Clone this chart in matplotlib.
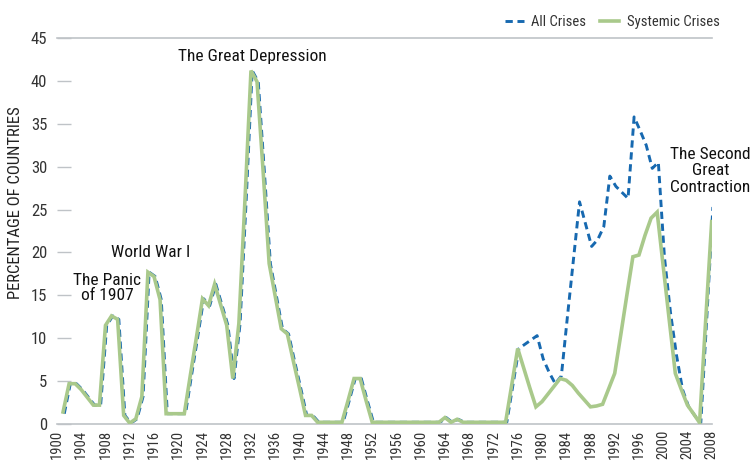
import matplotlib
matplotlib.use("Agg")
import matplotlib.pyplot as plt
import matplotlib.transforms as mtransforms

plt.rcParams['font.family'] = ['Roboto Condensed', 'Liberation Sans Narrow', 'Roboto', 'DejaVu Sans']

years = list(range(1901, 2009))

# share of countries in banking crisis
systemic = [1.4, 4.7, 4.7, 4.0, 3.1, 2.2, 2.2, 11.5, 12.6, 12.2,   # 1901-1910
            1.0, 0.1, 0.6, 3.2, 17.7, 17.2, 14.5, 1.2, 1.2, 1.2,   # 1911-1920
            1.2, 5.7, 10.1, 14.6, 13.8, 16.3, 13.9, 11.5, 5.3, 11.7,  # 1921-1930
            26.0, 41.2, 39.9, 29.5, 18.7, 14.9, 11.1, 10.5, 7.3, 4.2,  # 1931-1940
            1.0, 1.0, 0.2, 0.2, 0.2, 0.2, 0.2, 2.7, 5.3, 5.3,      # 1941-1950
            2.7, 0.2, 0.2, 0.2, 0.2, 0.2, 0.2, 0.2, 0.2, 0.2,      # 1951-1960
            0.2, 0.2, 0.2, 0.75, 0.2, 0.55, 0.2, 0.2, 0.2, 0.2,    # 1961-1970
            0.2, 0.2, 0.2, 0.2, 4.5, 8.8, 6.5, 4.2, 2.0, 2.6,      # 1971-1980
            3.5, 4.4, 5.3, 5.1, 4.5, 3.6, 2.8, 2.0, 2.1, 2.3,      # 1981-1990
            4.1, 5.9, 10.4, 15.0, 19.5, 19.7, 22.0, 24.0, 24.7, 18.4,  # 1991-2000
            12.1, 5.9, 4.0, 2.2, 1.2, 0.15, 12.0, 23.6]            # 2001-2008

all_crises = [1.2, 4.7, 4.7, 4.0, 3.1, 2.2, 2.2, 11.5, 12.6, 12.2,
              1.0, 0.1, 0.6, 3.2, 17.7, 17.2, 14.5, 1.2, 1.2, 1.2,
              1.2, 5.7, 10.1, 14.6, 13.8, 16.3, 13.9, 11.5, 5.3, 11.7,
              26.0, 41.2, 39.9, 29.5, 18.7, 14.9, 11.1, 10.5, 7.3, 4.2,
              1.0, 1.0, 0.2, 0.2, 0.2, 0.2, 0.2, 2.7, 5.3, 5.3,
              2.7, 0.2, 0.2, 0.2, 0.2, 0.2, 0.2, 0.2, 0.2, 0.2,
              0.2, 0.2, 0.2, 0.75, 0.2, 0.55, 0.2, 0.2, 0.2, 0.2,
              0.2, 0.2, 0.2, 0.2, 4.5, 8.8, 9.3, 9.8, 10.3, 7.6,
              6.0, 4.7, 5.6, 12.5, 19.2, 25.9, 23.3, 20.7, 21.5, 23.0,
              28.9, 27.7, 27.0, 26.3, 35.8, 34.2, 32.5, 29.8, 30.5, 19.5,
              13.0, 8.0, 4.0, 2.0, 1.0, 0.1, 12.5, 25.3]

tick_years = list(range(1900, 2009, 4))

annotations = [
    ("The Great Depression", 1932.2, 42.9, 1.0),
    ("World War I", 1915.5, 20.0, 1.0),
    ("The Panic\nof 1907", 1908.3, 15.9, 1.0),
    ("The Second\nGreat\nContraction", 2007.8, 29.5, 1.12),
]

blue = '#1769b0'
green = '#a9c98b'
grey = '#bfc3c7'

fig = plt.figure(figsize=(7.53, 4.65), dpi=100)
ax = fig.add_axes([57/753, 1 - 424/465, 654.7/753, 386/465])

# dashed series sits a hair to the right of the green one in the original
shift = mtransforms.offset_copy(ax.transData, fig=fig, x=1.2, y=0, units='dots')
ax.plot(years, all_crises, color=blue, lw=2.1, ls=(0, (2.5, 1.6)),
        transform=shift, zorder=2, label='All Crises')
ax.plot(years, systemic, color=green, lw=2.6, zorder=3, solid_joinstyle='miter',
        label='Systemic Crises')

ax.set_xlim(1900, 2008)
ax.set_ylim(0, 45)
ax.set_yticks(range(0, 46, 5))
ax.set_xticks(tick_years)
ax.set_xticklabels([str(y) for y in tick_years], rotation=90, fontsize=10.5)
ax.tick_params(axis='x', length=0, pad=4, colors='#333333')
ax.tick_params(axis='y', direction='in', length=10, width=1, color=grey,
               pad=7, labelsize=12, labelcolor='#333333')

for side in ['left', 'right']:
    ax.spines[side].set_visible(False)
for side in ['top', 'bottom']:
    ax.spines[side].set_color(grey)
    ax.spines[side].set_linewidth(1.2)

ax.text(-0.063, 0.573, 'PERCENTAGE OF COUNTRIES', transform=ax.transAxes,
        rotation=90, ha='center', va='center', fontsize=12, color='#222222')

for txt, x, y, ls in annotations:
    ax.text(x, y, txt, ha='center', va='center', fontsize=12.5, color='#111111',
            linespacing=ls, clip_on=False)

leg = ax.legend(loc='center right', bbox_to_anchor=(1.012, 1.041), ncol=2,
                frameon=False, fontsize=10.5, handlelength=1.3, handletextpad=0.5,
                columnspacing=1.0, borderaxespad=0, borderpad=0)
for t in leg.get_texts():
    t.set_color('#333333')

fig.savefig('out.png', dpi=100)
